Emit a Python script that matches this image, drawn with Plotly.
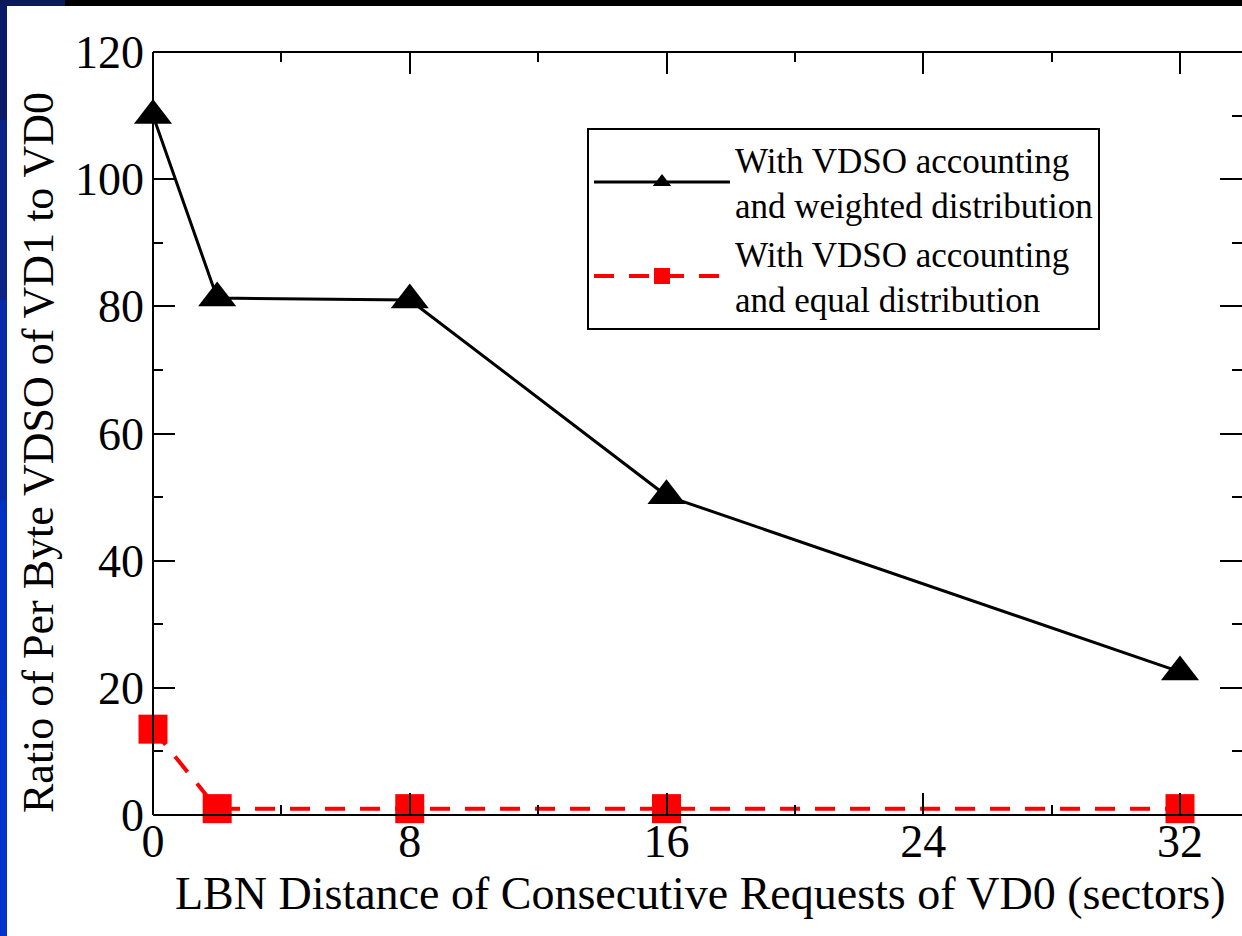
import plotly.graph_objects as go

# ---- data ----
lbn_distance = [0, 2, 8, 16, 32]
weighted_ratio = [110.0, 81.3, 81.0, 50.2, 22.5]
equal_ratio = [13.5, 1.0, 1.0, 1.0, 1.0]

x_ticks = [0, 8, 16, 24, 32]
y_ticks = [0, 20, 40, 60, 80, 100, 120]

series_names = [
    "With VDSO accounting<br>and weighted distribution",
    "With VDSO accounting<br>and equal distribution",
]
x_title = "LBN Distance of Consecutive Requests of VD0 (sectors)"
y_title = "Ratio of Per Byte VDSO of VD1 to VD0"

FONT = "Liberation Serif"

W, H = 1242, 936
L, T, B, R = 153, 52, 121, 0
pw = W - L - R
ph = H - T - B


def px_x(px):
    return (px - L) / pw


def px_y(py):
    return (H - B - py) / ph


fig = go.Figure()

fig.add_trace(go.Scatter(
    x=lbn_distance, y=weighted_ratio, name=series_names[0],
    mode="lines+markers",
    line=dict(color="black", width=3),
    marker=dict(symbol="triangle-up", size=33, color="black"),
    cliponaxis=False,
))
fig.add_trace(go.Scatter(
    x=lbn_distance, y=equal_ratio, name=series_names[1],
    mode="lines+markers",
    line=dict(color="#ff0000", width=4, dash="20px,15px"),
    marker=dict(symbol="square", size=29, color="#ff0000"),
    cliponaxis=False,
))

# page decoration: top dark bar, left blue strip
shapes = []
shapes.append(dict(type="rect", xref="paper", yref="paper",
                   x0=px_x(0), x1=px_x(W), y0=px_y(0), y1=px_y(6),
                   fillcolor="black", line_width=0, layer="below"))
strip_cols = ["#0a1a6a", "#0b2388", "#062aa8", "#0230c0", "#0033cc"]
seg = [6, 120, 300, 500, 700, 936]
for i, c in enumerate(strip_cols):
    shapes.append(dict(type="rect", xref="paper", yref="paper",
                       x0=px_x(0), x1=px_x(7), y0=px_y(seg[i]), y1=px_y(seg[i + 1]),
                       fillcolor=c, line_width=0, layer="below"))
shapes.append(dict(type="rect", xref="paper", yref="paper",
                   x0=px_x(0), x1=px_x(65), y0=px_y(0), y1=px_y(6),
                   fillcolor="#0a1a5a", line_width=0, layer="below"))
# frame lines (left, top, bottom); right edge lies just outside the picture
for (x0, y0, x1, y1) in [(0, 0, 0, 1), (0, 1, 1, 1), (0, 0, 1, 0)]:
    shapes.append(dict(type="line", xref="paper", yref="paper",
                       x0=x0, y0=y0, x1=x1, y1=y1,
                       line=dict(color="black", width=2), layer="above"))

annotations = [
    dict(text=x_title, xref="paper", yref="paper",
         x=px_x(700), y=px_y(893), xanchor="center", yanchor="middle",
         showarrow=False, font=dict(family=FONT, size=46, color="black")),
    dict(text=y_title, xref="paper", yref="paper",
         x=px_x(38), y=px_y(453), xanchor="center", yanchor="middle",
         textangle=-90, showarrow=False,
         font=dict(family=FONT, size=44, color="black")),
]

fig.update_layout(
    width=W, height=H,
    margin=dict(l=L, r=R, t=T, b=B, pad=0),
    paper_bgcolor="white", plot_bgcolor="white",
    font=dict(family=FONT, color="black", size=46),
    shapes=shapes,
    annotations=annotations,
    showlegend=True,
    legend=dict(
        x=px_x(587), y=px_y(128), xanchor="left", yanchor="top",
        bgcolor="white", bordercolor="black", borderwidth=2,
        font=dict(family=FONT, size=35, color="black"),
        itemwidth=136, tracegroupgap=0,
    ),
)

fig.update_xaxes(
    range=[0, (W - L) / ((1180 - L) / 32)],
    tickvals=x_ticks, ticktext=[str(v) for v in x_ticks],
    ticks="inside", ticklen=22, tickwidth=2, tickcolor="black",
    minor=dict(dtick=4, tick0=0, ticks="inside", ticklen=10, tickwidth=2, tickcolor="black"),
    showline=False, mirror="ticks", showgrid=False, zeroline=False,
    tickfont=dict(family=FONT, size=46),
    ticklabelstandoff=-5,
)
fig.update_yaxes(
    range=[0, 120],
    tickvals=y_ticks, ticktext=[str(v) for v in y_ticks],
    ticks="inside", ticklen=22, tickwidth=2, tickcolor="black",
    minor=dict(dtick=10, tick0=0, ticks="inside", ticklen=10, tickwidth=2, tickcolor="black"),
    showline=False, mirror="ticks", showgrid=False, zeroline=False,
    tickfont=dict(family=FONT, size=46),
    ticklabelstandoff=8,
)

fig.write_html(
    "out.html",
    config={"displayModeBar": False},
    post_script="document.body.style.margin='0';document.body.style.overflow='hidden';",
)
